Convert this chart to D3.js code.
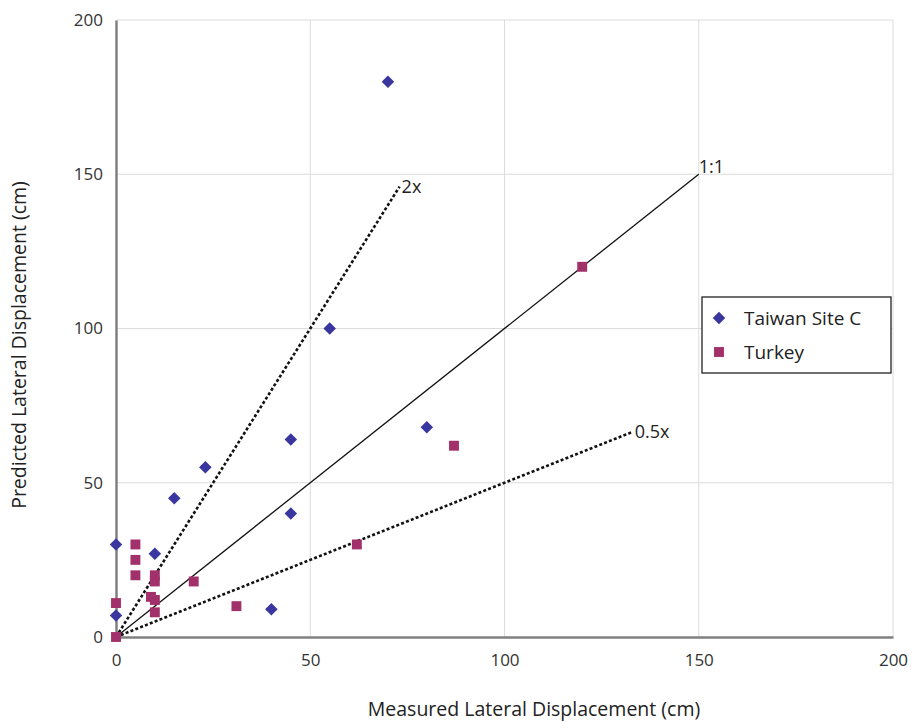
<!DOCTYPE html>
<html>
<head>
<meta charset="utf-8">
<script src="https://cdn.jsdelivr.net/npm/d3@7"></script>
<style>
  body { margin: 0; background: #fff; }
  svg { display: block; font-family: "Open Sans", "Noto Sans", sans-serif; }
</style>
</head>
<body>
<svg id="chart" width="912" height="721"></svg>
<script>
// ---- data ----
const taiwanX = [70, 55, 45, 45, 23, 15, 10, 0, 0, 40, 80];
const taiwanY = [180, 100, 64, 40, 55, 45, 27, 30, 7, 9, 68];
const turkeyX = [0, 0, 5, 5, 5, 10, 10, 9, 10, 10, 20, 31, 62, 87, 120];
const turkeyY = [0, 11, 30, 25, 20, 20, 18, 13, 12, 8, 18, 10, 30, 62, 120];
const xTicks = [0, 50, 100, 150, 200];
const yTicks = [0, 50, 100, 150, 200];
const refLineNames = ["1:1", "2x", "0.5x"];
const refLineEndX = [150, 73, 133];
const refLineEndY = [150, 146, 66.5];
const seriesNames = ["Taiwan Site C", "Turkey"];

// ---- layout ----
const svg = d3.select("#chart");
const x = d3.scaleLinear().domain([0, 200]).range([116, 893]);
const y = d3.scaleLinear().domain([0, 200]).range([637, 20]);

// gridlines
svg.append("g").selectAll("line.vg").data(xTicks.filter(d => d > 0)).join("line")
  .attr("x1", d => x(d)).attr("x2", d => x(d)).attr("y1", y(200)).attr("y2", y(0))
  .attr("stroke", "#dcdcdc").attr("stroke-width", 1);
svg.append("g").selectAll("line.hg").data(yTicks.filter(d => d > 0)).join("line")
  .attr("x1", x(0)).attr("x2", x(200)).attr("y1", d => y(d)).attr("y2", d => y(d))
  .attr("stroke", "#dcdcdc").attr("stroke-width", 1);

// axes
const xAxis = svg.append("g").attr("transform", `translate(0,${y(0)})`)
  .call(d3.axisBottom(x).tickValues(xTicks).tickSize(0).tickPadding(17));
const yAxis = svg.append("g").attr("transform", `translate(${x(0)},0)`)
  .call(d3.axisLeft(y).tickValues(yTicks).tickSize(0).tickPadding(13));
[xAxis, yAxis].forEach(a => {
  a.attr("font-size", 17).attr("font-family", "'Open Sans', sans-serif");
  a.select(".domain").attr("stroke", "#808080").attr("stroke-width", 2.5);
  a.selectAll("text").attr("fill", "#333");
});

// axis titles
svg.append("text").attr("x", 534).attr("y", 716).attr("text-anchor", "middle")
  .attr("font-size", 19.5).attr("fill", "#222").text("Measured Lateral Displacement (cm)");
svg.append("text").attr("transform", `translate(26,345) rotate(-90)`)
  .attr("text-anchor", "middle").attr("font-size", 19.5).attr("fill", "#222")
  .text("Predicted Lateral Displacement (cm)");

// reference lines
const refs = refLineNames.map((n, i) => ({name: n, x: refLineEndX[i], y: refLineEndY[i]}));
svg.append("g").selectAll("line").data(refs).join("line")
  .attr("x1", x(0)).attr("y1", y(0))
  .attr("x2", d => x(d.x)).attr("y2", d => y(d.y))
  .attr("stroke", "#111")
  .attr("stroke-width", d => d.name === "1:1" ? 1.3 : 2.6)
  .attr("stroke-dasharray", d => d.name === "1:1" ? null : "3,2.2");
svg.append("g").selectAll("text").data(refs).join("text")
  .attr("x", d => x(d.x) + (d.name === "1:1" ? 0 : 2))
  .attr("y", d => y(d.y) + (d.name === "1:1" ? -1 : 6))
  .attr("font-size", 18).attr("fill", "#222")
  .text(d => d.name);

// points
const taiwan = taiwanX.map((v, i) => ({x: v, y: taiwanY[i]}));
const turkey = turkeyX.map((v, i) => ({x: v, y: turkeyY[i]}));
const diamond = d3.symbol().type(d3.symbolDiamond2).size(100);
const square = d3.symbol().type(d3.symbolSquare2).size(125);
svg.append("g").selectAll("path").data(turkey).join("path")
  .attr("d", square).attr("transform", d => `translate(${x(d.x)},${y(d.y)})`)
  .attr("fill", "#a2306a");
svg.append("g").selectAll("path").data(taiwan).join("path")
  .attr("d", diamond).attr("transform", d => `translate(${x(d.x)},${y(d.y)})`)
  .attr("fill", "#3a36a0");

// legend
const lg = svg.append("g");
lg.append("rect").attr("x", 702).attr("y", 297).attr("width", 189).attr("height", 76)
  .attr("fill", "#fff").attr("stroke", "#222").attr("stroke-width", 1.3);
lg.append("path").attr("d", diamond).attr("transform", "translate(719,318)").attr("fill", "#3a36a0");
lg.append("path").attr("d", square).attr("transform", "translate(719,352)").attr("fill", "#a2306a");
lg.selectAll("text").data(seriesNames).join("text")
  .attr("x", 744).attr("y", (d, i) => 318 + i * 34).attr("dy", "0.35em")
  .attr("font-size", 19).attr("fill", "#222").text(d => d);
</script>
</body>
</html>
